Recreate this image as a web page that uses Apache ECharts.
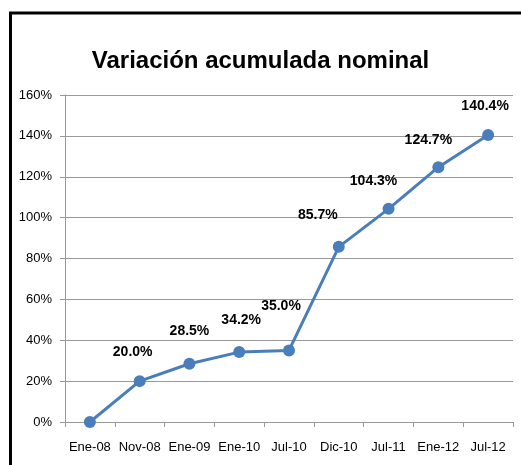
<!DOCTYPE html>
<html><head><meta charset="utf-8">
<script src="https://cdn.jsdelivr.net/npm/echarts@6/dist/echarts.min.js"></script>
<style>html,body{margin:0;padding:0;background:#fff}#c{width:521px;height:465px}</style>
</head><body><div id="c"></div>
<script>
const titleText = 'Variación acumulada nominal';
const categories = ['Ene-08','Nov-08','Ene-09','Ene-10','Jul-10','Dic-10','Jul-11','Ene-12','Jul-12'];
const values = [0, 20.0, 28.5, 34.2, 35.0, 85.7, 104.3, 124.7, 140.4];
const showLabel = [false, true, true, true, true, true, true, true, true];
const labelOffsets = [[0,0],[-7,-29],[0,-33],[2,-32],[-8,-44],[-21,-32],[-15,-28],[-10,-27],[-3,-29]];
const yTicks = [0,20,40,60,80,100,120,140,160];

const FONT = '"Liberation Sans Narrow", "Arial Narrow", "Liberation Sans", sans-serif';
const chart = echarts.init(document.getElementById('c'));
chart.setOption({
  animation: false,
  backgroundColor: '#fff',
  graphic: [{type:'rect', shape:{x:10.5, y:13, width:600, height:600}, style:{fill:'none', stroke:'#000', lineWidth:3}, z:100}],
  title: {text: titleText, left: 'center', top: 44,
    textStyle: {fontFamily: FONT, fontWeight: 'bold', fontSize: 24, color: '#000'}},
  grid: {left: 65, right: 8, top: 95, bottom: 43, containLabel: false},
  xAxis: {type: 'category', data: categories, boundaryGap: true,
    axisLine: {lineStyle: {color: '#999', width: 1}},
    axisTick: {show: true, length: 5, lineStyle: {color: '#999'}},
    axisLabel: {fontFamily: FONT, fontSize: 13, color: '#000', margin: 19, interval: 0}},
  yAxis: {type: 'value', min: yTicks[0], max: yTicks[yTicks.length-1], interval: 20,
    axisLine: {show: true, lineStyle: {color: '#999'}},
    axisTick: {show: true, length: 5, lineStyle: {color: '#999'}},
    splitLine: {show: true, lineStyle: {color: '#999', width: 1}},
    axisLabel: {fontFamily: FONT, fontSize: 13, color: '#000', margin: 13, formatter: v => v + '%'}},
  series: [{type: 'line', symbol: 'circle', symbolSize: 12,
    itemStyle: {color: '#4A7EBB'}, lineStyle: {color: '#4A7EBB', width: 3},
    data: values.map((v, i) => ({value: v, label: {show: showLabel[i], position: 'inside', offset: labelOffsets[i]}})),
    label: {fontFamily: FONT, fontWeight: 'bold', fontSize: 14, color: '#000',
      formatter: p => p.value.toFixed(1) + '%'}}]
});
</script></body></html>
